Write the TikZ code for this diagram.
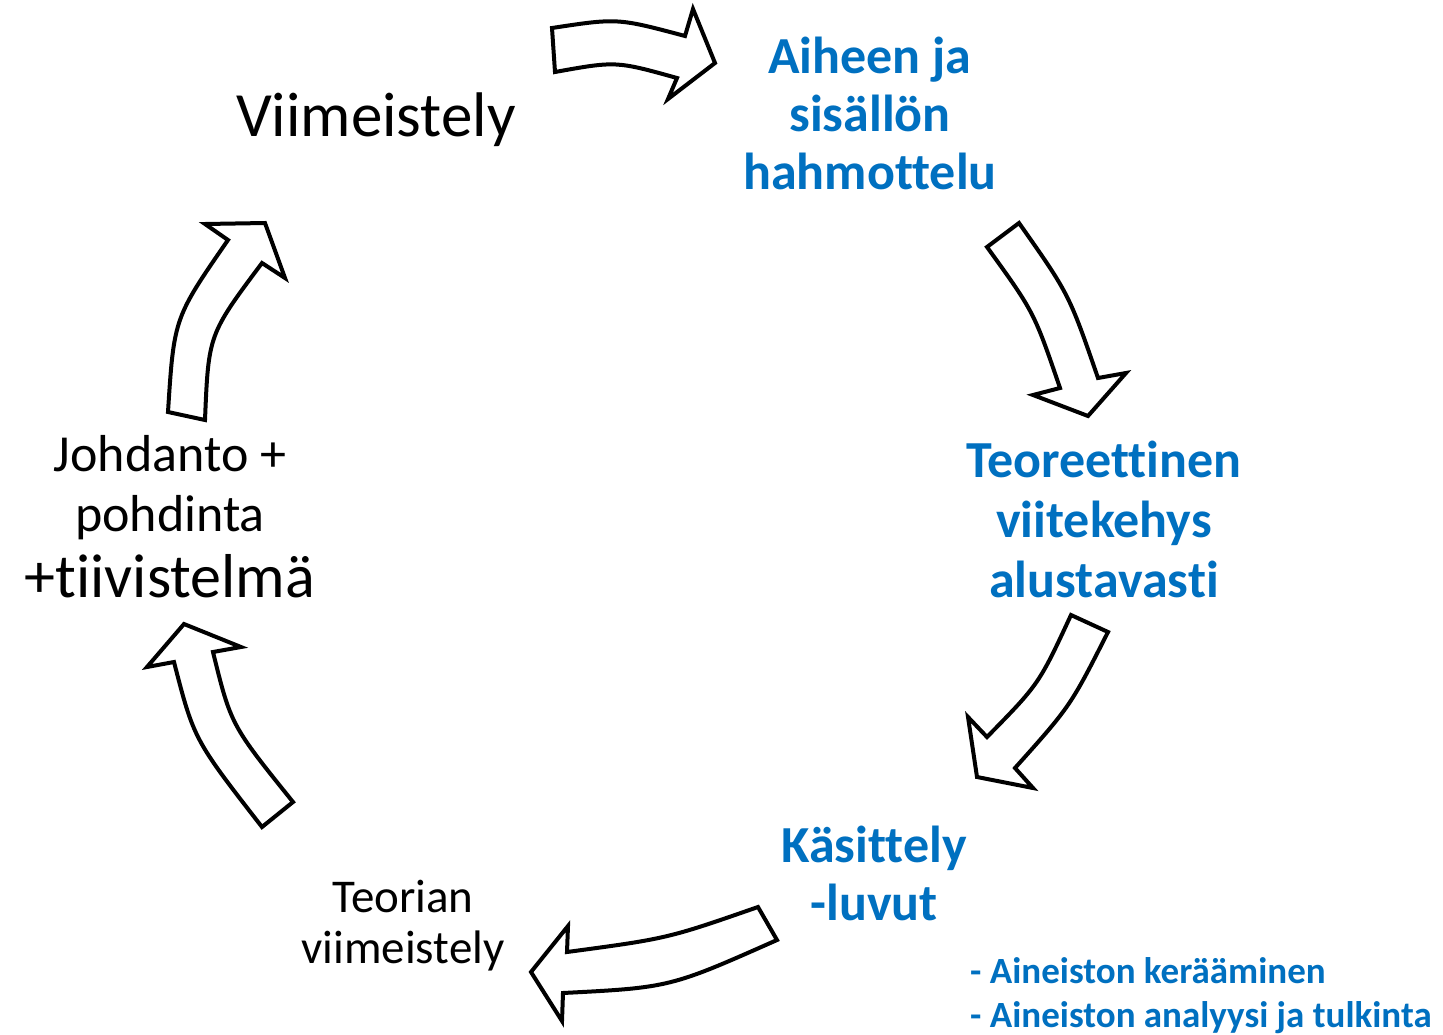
\documentclass[tikz,border=0pt]{standalone}
\usepackage{fontspec}
\setmainfont{Carlito}[Ligatures={NoCommon,NoContextual}]
\definecolor{stepblue}{HTML}{0070C0}
\begin{document}
\begin{tikzpicture}[x=1pt,y=-1pt,
  blockarrow/.style={draw=black,line width=4pt,line join=miter,fill=white},
  bluelabel/.style={text=stepblue,font=\bfseries\fontsize{52}{58}\selectfont,align=center,inner sep=0pt,anchor=north},
  blacklabel/.style={text=black,font=\fontsize{52}{60}\selectfont,align=center,inner sep=0pt,anchor=north}]
\useasboundingbox[fill=white] (0,0) rectangle (1443,1034);
% Drawing labels
% Label 1: Viimeistely
\node[blacklabel,font=\fontsize{63}{70}\selectfont] (viim) at (376,93) {Viimeistely};
% Label 2: Aiheen ja sisallon hahmottelu
\node[bluelabel] (aihe) at (870,37) {Aiheen ja\\sisällön\\hahmottelu};
% Label 3: Teoreettinen viitekehys
\node[bluelabel,font=\bfseries\fontsize{52}{60}\selectfont] (teor) at (1104,441) {Teoreettinen\\viitekehys\\alustavasti};
% Label 4: Kasittelyluvut
\node[bluelabel] (kasi) at (874,826) {Käsittely\\-luvut};
% Label 5: Teorian viimeistely
\node[blacklabel,font=\fontsize{47}{51}\selectfont] (tviim) at (403,880) {Teorian\\viimeistely};
% Label 6: Johdanto, pohdinta, tiivistelma
\node[blacklabel] (johd) at (170,435) {Johdanto +\\pohdinta\\[6pt]{\fontsize{62}{70}\selectfont+tiivistelmä}};
% Sub-items of Kasittelyluvut
\node[bluelabel,font=\bfseries\fontsize{37}{44}\selectfont,align=left,anchor=north west] (aineisto) at (970,957) {- Aineiston kerääminen\\- Aineiston analyysi ja tulkinta};
% Done with labels; drawing arrows
% Arrow 1: viim -> aihe
\draw[blockarrow] (552,28) .. controls (617.5,18) .. (685,36) -- (693,9) -- (715,63) -- (668,99)
  -- (677,78) .. controls (616,61) .. (555,72) -- cycle;
% Arrow 2: aihe -> teor
\draw[blockarrow] (1019,223) .. controls (1069,294) .. (1098,378) -- (1126,373) -- (1088,416) -- (1033,395)
  -- (1060,388) .. controls (1034,312) .. (987,247) -- cycle;
% Arrow 3: teor -> kasi
\draw[blockarrow] (1108,632) .. controls (1070.5,706) .. (1015,768) -- (1033,788) -- (977,777) -- (968,717)
  -- (987,737) .. controls (1039,684) .. (1071,615) -- cycle;
% Arrow 4: kasi -> tviim
\draw[blockarrow] (777,940) .. controls (670,987.5) .. (563,993) -- (562,1021) -- (531,972) -- (568,926)
  -- (567,952) .. controls (667.5,938.5) .. (758,907) -- cycle;
% Arrow 5: tviim -> johd
\draw[blockarrow] (262,827) .. controls (194,739.5) .. (174,662) -- (147,667) -- (184,624) -- (241,647)
  -- (213,652) .. controls (231,725) .. (293,802) -- cycle;
% Arrow 6: johd -> viim
\draw[blockarrow] (168,412) .. controls (174,318) .. (228,240) -- (205,224) -- (265,223) -- (285,278)
  -- (262,263) .. controls (208.5,334.5) .. (205,420) -- cycle;
% Done with arrows
\end{tikzpicture}
\end{document}
